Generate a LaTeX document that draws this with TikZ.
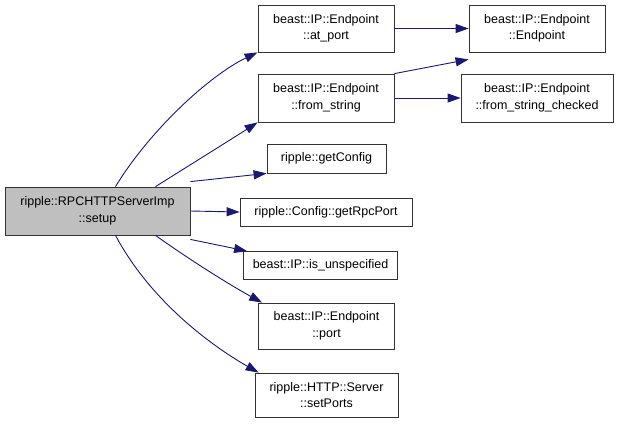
\documentclass[tikz,border=0pt]{standalone}
\usepackage{fontspec}
\setmainfont{Liberation Sans}
\usetikzlibrary{arrows.meta}
\definecolor{edgeblue}{HTML}{191970}

\begin{document}
\begin{tikzpicture}[x=1pt, y=-1pt,
	every node/.style={font=\fontsize{12.5}{16.5}\selectfont, align=center, inner sep=0pt},
	fn/.style={draw=black!80, fill=white, line width=0.8pt},
	edge/.style={draw=edgeblue, line width=0.9pt, -{Triangle[length=13pt, width=9pt]}}]
	\useasboundingbox (0,0) rectangle (619,424);
	% caller
	\node[fn, fill=black!25, minimum width=185, minimum height=48] (setup) at (97.5,211) {ripple::RPCHTTPServerImp\\::setup};
	% first rank
	\node[fn, minimum width=136, minimum height=47] (atport) at (326,28.5) {beast::IP::Endpoint\\::at\_port};
	\node[fn, minimum width=136, minimum height=48] (fromstr) at (326,98) {beast::IP::Endpoint\\::from\_string};
	\node[fn, minimum width=119, minimum height=29] (getcfg) at (326.5,158.5) {ripple::getConfig};
	\node[fn, minimum width=172, minimum height=28] (rpcport) at (326,212) {ripple::Config::getRpcPort};
	\node[fn, minimum width=154, minimum height=28] (unspec) at (320.5,265.5) {beast::IP::is\_unspecified};
	\node[fn, minimum width=136, minimum height=46] (port) at (326.5,326) {beast::IP::Endpoint\\::port};
	\node[fn, minimum width=143, minimum height=44] (setports) at (326.5,395) {ripple::HTTP::Server\\::setPorts};
	% second rank
	\node[fn, minimum width=136, minimum height=47] (ctor) at (537,28.5) {beast::IP::Endpoint\\::Endpoint};
	\node[fn, minimum width=152, minimum height=48] (checked) at (537,98) {beast::IP::Endpoint\\::from\_string\_checked};
	% calls
	\draw[edge] ([xshift=18]setup.north) .. controls (150,130) and (210,75) .. (atport.south west);
	\draw[edge] ([xshift=58]setup.north) .. controls (190,165) and (230,140) .. (fromstr.south west);
	\draw[edge] ([yshift=5]setup.north east) -- (getcfg.south west);
	\draw[edge] (setup.east) -- (rpcport.west);
	\draw[edge] ([yshift=-4]setup.south east) -- ([xshift=4]unspec.north west);
	\draw[edge] ([xshift=58]setup.south) .. controls (190,260) and (230,285) .. ([xshift=4]port.north west);
	\draw[edge] ([xshift=18]setup.south) .. controls (150,300) and (210,345) .. ([xshift=4]setports.north west);
	\draw[edge] (atport.east) -- (ctor.west);
	\draw[edge] (fromstr.north east) -- ([yshift=-7]ctor.south west);
	\draw[edge] (fromstr.east) -- (checked.west);
\end{tikzpicture}
\end{document}
